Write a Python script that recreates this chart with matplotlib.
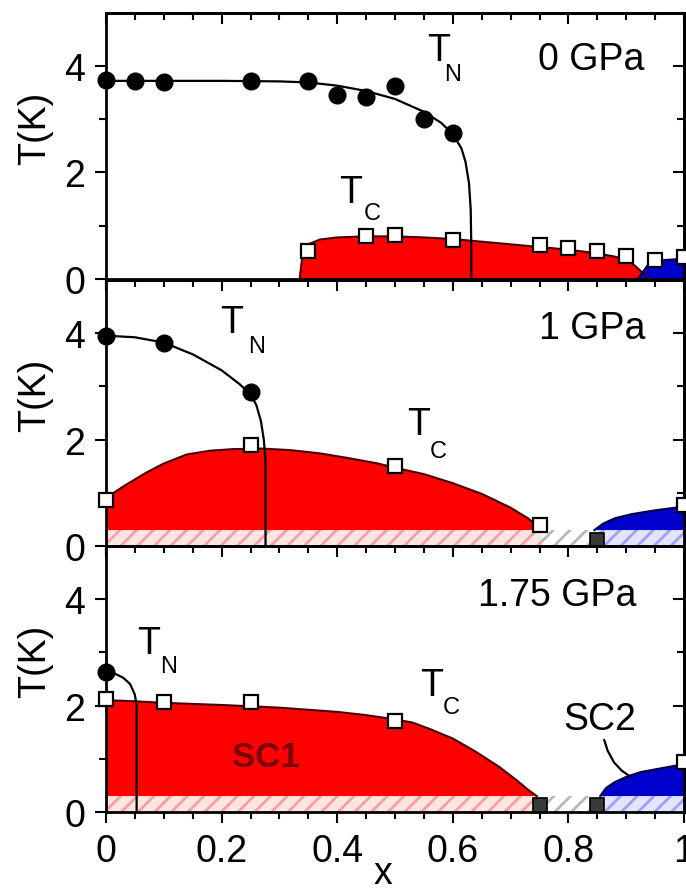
import numpy as np
import matplotlib.pyplot as plt

plt.rcParams['font.family'] = ['Liberation Sans', 'DejaVu Sans']
plt.rcParams['hatch.linewidth'] = 2.0

# ---- 0 GPa ----
p0_tn_x = [0, 0.05, 0.1, 0.25, 0.35, 0.4, 0.45, 0.5, 0.55, 0.6]
p0_tn_y = [3.74, 3.71, 3.69, 3.71, 3.71, 3.46, 3.41, 3.63, 3.0, 2.74]
p0_tnline_x = [0, 0.1, 0.2, 0.3, 0.35, 0.4, 0.45, 0.5, 0.55, 0.58, 0.6, 0.615, 0.622, 0.628, 0.631, 0.632, 0.632]
p0_tnline_y = [3.72, 3.72, 3.72, 3.71, 3.69, 3.63, 3.53, 3.38, 3.14, 2.93, 2.72, 2.45, 2.2, 1.8, 1.3, 0.6, 0.0]
p0_tc_x = [0.35, 0.45, 0.5, 0.6, 0.75, 0.8, 0.85, 0.9, 0.95, 1.0]
p0_tc_y = [0.53, 0.80, 0.83, 0.74, 0.64, 0.58, 0.52, 0.43, 0.35, 0.42]
p0_red_x = [0.335, 0.34, 0.35, 0.37, 0.4, 0.45, 0.5, 0.55, 0.6, 0.65, 0.7, 0.75, 0.8, 0.85, 0.88, 0.9, 0.915, 0.93, 0.94]
p0_red_y = [0, 0.45, 0.65, 0.74, 0.78, 0.8, 0.8, 0.78, 0.75, 0.7, 0.65, 0.6, 0.55, 0.48, 0.42, 0.36, 0.25, 0.1, 0]
p0_blue_x = [0.92, 0.94, 0.96, 1.0]
p0_blue_y = [0, 0.3, 0.35, 0.38]

# ---- 1 GPa ----
p1_tn_x = [0, 0.1, 0.25]
p1_tn_y = [3.95, 3.82, 2.89]
p1_tnline_x = [0, 0.05, 0.1, 0.15, 0.2, 0.23, 0.25, 0.26, 0.268, 0.273, 0.276, 0.276]
p1_tnline_y = [3.95, 3.92, 3.82, 3.6, 3.3, 3.05, 2.85, 2.65, 2.35, 2.0, 1.6, 0]
p1_tc_x = [0, 0.25, 0.5, 0.75, 1.0]
p1_tc_y = [0.86, 1.89, 1.50, 0.40, 0.77]
p1_zero_x = [0.85]
p1_zero_y = [0.12]
p1_red_x = [0, 0.03, 0.07, 0.1, 0.14, 0.18, 0.22, 0.27, 0.32, 0.37, 0.42, 0.47, 0.5, 0.55, 0.6, 0.65, 0.7, 0.73, 0.755]
p1_red_y = [0.9, 1.12, 1.38, 1.55, 1.72, 1.79, 1.82, 1.83, 1.8, 1.74, 1.65, 1.55, 1.47, 1.35, 1.18, 0.98, 0.72, 0.52, 0.3]
p1_blue_x = [0.845, 0.86, 0.88, 0.91, 0.95, 1.0]
p1_blue_y = [0.3, 0.42, 0.52, 0.6, 0.67, 0.74]

# ---- 1.75 GPa ----
p2_tn_x = [0]
p2_tn_y = [2.62]
p2_tnline_x = [0, 0.015, 0.03, 0.042, 0.05, 0.053, 0.053]
p2_tnline_y = [2.62, 2.6, 2.52, 2.4, 2.2, 2.0, 0]
p2_tc_x = [0, 0.1, 0.25, 0.5, 1.0]
p2_tc_y = [2.12, 2.06, 2.06, 1.71, 0.93]
p2_zero_x = [0.75, 0.85]
p2_zero_y = [0.14, 0.14]
p2_red_x = [0, 0.05, 0.1, 0.2, 0.3, 0.4, 0.45, 0.5, 0.53, 0.56, 0.6, 0.64, 0.68, 0.71, 0.73, 0.745]
p2_red_y = [2.1, 2.08, 2.05, 2.01, 1.96, 1.88, 1.82, 1.74, 1.68, 1.56, 1.38, 1.13, 0.85, 0.6, 0.42, 0.3]
p2_blue_x = [0.855, 0.865, 0.88, 0.9, 0.925, 0.95, 0.98, 1.0]
p2_blue_y = [0.3, 0.45, 0.56, 0.66, 0.75, 0.8, 0.86, 0.9]
sc2_line_x = [0.862, 0.868, 0.879, 0.892, 0.905]
sc2_line_y = [1.35, 1.15, 0.93, 0.78, 0.68]

x_ticks = [0, 0.2, 0.4, 0.6, 0.8, 1.0]
x_ticklabels = ['0', '0.2', '0.4', '0.6', '0.8', '1']
y_ticks = [0, 2, 4]
y_ticklabels = ['0', '2', '4']

FS = 27
SUB = 17
RED = '#ff0000'
BLUE = '#0000cc'
EDGE_RED = '#4a0000'

fig = plt.figure(figsize=(6.86, 8.95), dpi=100)
left, width, h = 106 / 686, 578 / 686, 0.2975
bottoms = [0.6872, 0.3888, 0.0916]
axes = [fig.add_axes([left, b, width, h]) for b in bottoms]


def style_axes(ax, show_xlabels):
    ax.set_xlim(0, 1)
    ax.set_ylim(0, 5)
    ax.set_xticks(x_ticks)
    ax.set_xticklabels(x_ticklabels if show_xlabels else [])
    ax.set_xticks(np.arange(0, 1.001, 0.05), minor=True)
    ax.set_yticks(y_ticks)
    ax.set_yticklabels(y_ticklabels)
    ax.set_yticks([1, 3], minor=True)
    ax.tick_params(which='both', direction='out', width=1.5, labelsize=FS, pad=7)
    ax.tick_params(which='major', length=8)
    ax.tick_params(which='minor', length=5)
    for sp in ax.spines.values():
        sp.set_linewidth(2)
    # mirrored ticks pointing inwards
    top = ax.secondary_xaxis('top')
    top.set_xticks(x_ticks)
    top.set_xticks(np.arange(0, 1.001, 0.05), minor=True)
    top.tick_params(which='both', direction='in', width=1.5, labeltop=False)
    top.tick_params(which='major', length=8)
    top.tick_params(which='minor', length=5)
    top.spines['top'].set_linewidth(2)
    right = ax.secondary_yaxis('right')
    right.set_yticks(y_ticks)
    right.set_yticks([1, 3], minor=True)
    right.tick_params(which='both', direction='in', width=1.5, labelright=False)
    right.tick_params(which='major', length=8)
    right.tick_params(which='minor', length=5)
    right.spines['right'].set_linewidth(2)
    ax.text(-0.123, 0.57, 'T(K)', rotation=90, ha='center', va='center',
            fontsize=FS, transform=ax.transAxes)


def hatch_band(ax, red_x, blue_x):
    ax.fill_between([0, 1], 0, 0.3, facecolor='white', edgecolor='#b8b8b8',
                    hatch='//', linewidth=0, zorder=1)
    ax.fill_between([red_x[0], red_x[-1]], 0, 0.3, facecolor='#ffe4e4',
                    edgecolor='#f4a0a0', hatch='//', linewidth=0, zorder=1)
    ax.fill_between([blue_x[0], 1], 0, 0.3, facecolor='#e4e4ff',
                    edgecolor='#a0a0f4', hatch='//', linewidth=0, zorder=1)


def dome(ax, x, y, base, color):
    ax.fill_between(x, base, y, facecolor=color, linewidth=0, zorder=2)
    ax.plot(x, y, color=EDGE_RED if color == RED else '#000040', lw=1.5, zorder=3)


def label_t(ax, xt, yt, xs, ys, sub):
    ax.text(xt, yt, 'T', fontsize=FS, ha='center', va='center')
    ax.text(xs, ys, sub, fontsize=SUB, ha='center', va='center')


def points(ax, tn_x, tn_y, tc_x, tc_y):
    ax.plot(tn_x, tn_y, 'o', ms=12, color='black', zorder=6, clip_on=False)
    ax.plot(tc_x, tc_y, 's', ms=10, mfc='white', mec='black', mew=1.6,
            zorder=6, clip_on=False)


# Panel 1: 0 GPa
ax = axes[0]
style_axes(ax, False)
dome(ax, p0_red_x, p0_red_y, 0, RED)
dome(ax, p0_blue_x, p0_blue_y, 0, BLUE)
ax.plot(p0_tnline_x, p0_tnline_y, color='black', lw=1.6, zorder=4)
points(ax, p0_tn_x, p0_tn_y, p0_tc_x, p0_tc_y)
label_t(ax, 0.575, 4.3, 0.6, 3.85, 'N')
label_t(ax, 0.423, 1.64, 0.461, 1.23, 'C')
ax.text(0.839, 4.13, '0 GPa', fontsize=FS, ha='center', va='center')

# Panel 2: 1 GPa
ax = axes[1]
style_axes(ax, False)
hatch_band(ax, p1_red_x, p1_blue_x)
dome(ax, p1_red_x, p1_red_y, 0.3, RED)
dome(ax, p1_blue_x, p1_blue_y, 0.3, BLUE)
ax.plot(p1_tnline_x, p1_tnline_y, color='black', lw=1.6, zorder=4)
points(ax, p1_tn_x, p1_tn_y, p1_tc_x, p1_tc_y)
ax.plot(p1_zero_x, p1_zero_y, 's', ms=10, mfc='#3a3a3a', mec='black', mew=1.2, zorder=6)
label_t(ax, 0.218, 4.2, 0.26, 3.75, 'N')
label_t(ax, 0.541, 2.29, 0.574, 1.79, 'C')
ax.text(0.842, 4.1, '1 GPa', fontsize=FS, ha='center', va='center')

# Panel 3: 1.75 GPa
ax = axes[2]
style_axes(ax, True)
hatch_band(ax, p2_red_x, p2_blue_x)
dome(ax, p2_red_x, p2_red_y, 0.3, RED)
dome(ax, p2_blue_x, p2_blue_y, 0.3, BLUE)
ax.plot(p2_tnline_x, p2_tnline_y, color='black', lw=1.6, zorder=4)
points(ax, p2_tn_x, p2_tn_y, p2_tc_x, p2_tc_y)
ax.plot(p2_zero_x, p2_zero_y, 's', ms=10, mfc='#3a3a3a', mec='black', mew=1.2, zorder=6)
label_t(ax, 0.074, 3.17, 0.108, 2.75, 'N')
label_t(ax, 0.563, 2.38, 0.597, 1.97, 'C')
ax.text(0.78, 4.08, '1.75 GPa', fontsize=FS, ha='center', va='center')
ax.text(0.276, 1.05, 'SC1', fontsize=25, fontweight='bold', color='#7a0000',
        ha='center', va='center', zorder=5)
ax.text(0.855, 1.75, 'SC2', fontsize=FS, ha='center', va='center')
ax.plot(sc2_line_x, sc2_line_y, color='black', lw=1.6, zorder=5)

fig.text(383 / 686, 1 - 874 / 895, 'x', fontsize=FS, ha='center', va='center')

plt.savefig('out.png', dpi=100)
